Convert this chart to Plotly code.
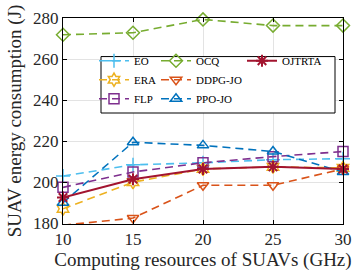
import plotly.graph_objects as go

x = [10, 15, 20, 25, 30]
EO = [203.0, 208.5, 209.5, 211.0, 211.5]
ERA = [187.0, 200.0, 206.5, 207.5, 207.0]
FLP = [197.5, 205.0, 209.5, 212.5, 215.0]
OCQ = [272.0, 273.0, 279.5, 276.5, 276.5]
DDPG_JO = [179.0, 182.5, 198.5, 198.5, 206.5]
PPO_JO = [190.0, 219.5, 218.0, 215.0, 205.0]
OJTRTA = [192.5, 201.5, 206.5, 207.5, 206.5]

series = [
    ("EO", EO, "#4DBEEE", "cross-thin-open", "legend", "dash"),
    ("ERA", ERA, "#EDB120", "hexagram-open", "legend", "dash"),
    ("FLP", FLP, "#7E2F8E", "square-open", "legend", "dash"),
    ("OCQ", OCQ, "#77AC30", "diamond-open", "legend2", "dash"),
    ("DDPG-JO", DDPG_JO, "#D95319", "triangle-down-open", "legend2", "dash"),
    ("PPO-JO", PPO_JO, "#0072BD", "triangle-up-open", "legend2", "dash"),
    ("OJTRTA", OJTRTA, "#A2142F", "asterisk-open", "legend3", "solid"),
]

fig = go.Figure()
for name, vals, col, sym, leg, dash in series:
    solid = dash == "solid"
    fig.add_trace(go.Scatter(
        x=x, y=vals, name=name, mode="lines+markers", legend=leg, cliponaxis=False,
        line=dict(color=col, width=2 if solid else 1.6, dash="solid" if solid else "8px,5px"),
        marker=dict(symbol=sym, size=10, color=col, line=dict(color=col, width=2 if solid else 1.5)),
    ))

font = "Liberation Serif"
axis_common = dict(showline=True, linecolor="black", linewidth=1, mirror="ticks",
                   ticks="inside", ticklen=4, tickcolor="black", gridcolor="#e3e3e3",
                   gridwidth=1, zeroline=False, tickfont=dict(family=font, size=17, color="#262626"))

fig.update_xaxes(range=[10, 30], tickvals=[10, 15, 20, 25, 30], **axis_common,
                 title=dict(text="Computing resources of SUAVs (GHz)",
                            font=dict(family=font, size=19, color="#262626"), standoff=0))
fig.update_yaxes(range=[179.6, 280.2], tickvals=[180, 200, 220, 240, 260, 280], **axis_common,
                 title=dict(text="SUAV energy consumption (J)",
                            font=dict(family=font, size=19, color="#262626"), standoff=6))

legfont = dict(family=font, size=11, color="black")
legy = 0.863
common_leg = dict(y=legy, yanchor="top", xanchor="left", bgcolor="rgba(0,0,0,0)",
                  font=legfont, borderwidth=0, tracegroupgap=0)
fig.update_layout(
    legend=dict(x=(94 - 63) / 280, **common_leg),
    legend2=dict(x=(156 - 63) / 280, **common_leg),
    legend3=dict(x=(242 - 63) / 280, **common_leg),
)
fig.add_shape(type="rect", xref="paper", yref="paper",
              x0=(101 - 63) / 280, x1=(335 - 63) / 280,
              y0=1 - (110 - 9) / 219, y1=1 - (50 - 9) / 219, line=dict(color="black", width=1),
              fillcolor="white", layer="above")

fig.update_layout(width=362, height=272, margin=dict(l=63, r=19, t=9, b=44),
                  plot_bgcolor="white", paper_bgcolor="white", showlegend=True)
fig.write_html("out.html", config={"displayModeBar": False},
               post_script="document.body.style.margin='0';document.body.style.overflow='hidden';")
